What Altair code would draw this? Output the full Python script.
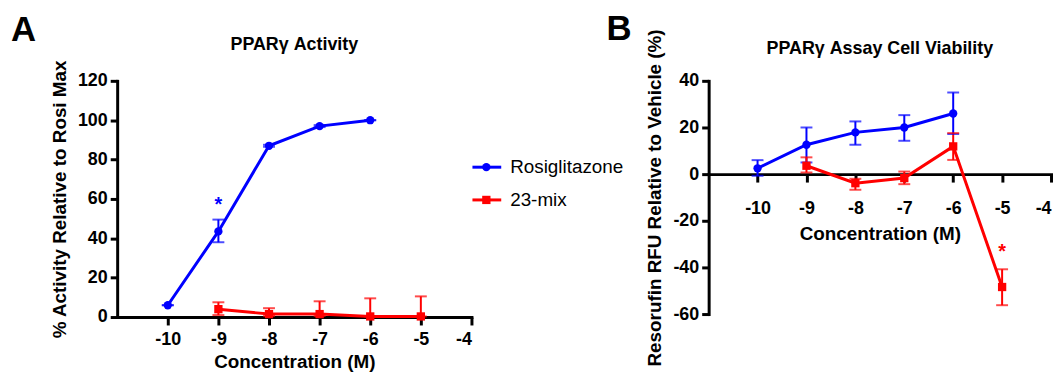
import altair as alt
import pandas as pd

FONT = "Liberation Sans"
series = ["Rosiglitazone", "23-mix"]
colors = ["#0000FF", "#FF0000"]
shapes = ["circle", "square"]
x_ticks = [-10, -9, -8, -7, -6, -5, -4]
x_domain = [-11, -4]
panel_letters = ["A", "B"]
panel_titles = ["PPARγ Activity", "PPARγ Assay Cell Viability"]
y_titles = ["% Activity Relative to Rosi Max", "Resorufin RFU Relative to Vehicle (%)"]
x_title = "Concentration (M)"

# Panel A: PPARγ activity
a_rosi_x = [-10, -9, -8, -7, -6]
a_rosi_y = [6, 43.5, 87, 97, 100]
a_rosi_lo = [6, 38, 86.5, 96.5, 100]
a_rosi_hi = [6, 49.5, 87.5, 97.5, 100]
a_mix_x = [-9, -8, -7, -6, -5]
a_mix_y = [4, 1.5, 1.5, 0.3, 0.3]
a_mix_lo = [1, 0.5, 0.5, 0.3, 0.3]
a_mix_hi = [7.5, 4.5, 8, 9.5, 10.5]
a_star = {"conc": [-9], "val": [57], "series": ["Rosiglitazone"]}
a_y_domain = [0, 120]
a_y_ticks = [0, 20, 40, 60, 80, 100, 120]

# Panel B: cell viability
b_rosi_x = [-10, -9, -8, -7, -6]
b_rosi_y = [2.5, 12.6, 17.9, 20, 26]
b_rosi_lo = [-0.7, 5, 12.6, 14.3, 17.2]
b_rosi_hi = [6, 20, 22.6, 25.3, 35]
b_mix_x = [-9, -8, -7, -6, -5]
b_mix_y = [3.6, -3.9, -1.7, 11.9, -48.4]
b_mix_lo = [0.7, -6.7, -4.3, 6.1, -56.2]
b_mix_hi = [7.2, -2, 1.1, 17.6, -40.8]
b_star = {"conc": [-5], "val": [-33.5], "series": ["23-mix"]}
b_y_domain = [-60, 40]
b_y_ticks = [-60, -40, -20, 0, 20, 40]


def frame(rx, ry, rlo, rhi, mx, my, mlo, mhi):
    d1 = pd.DataFrame({"conc": rx, "val": ry, "lo": rlo, "hi": rhi, "series": series[0]})
    d2 = pd.DataFrame({"conc": mx, "val": my, "lo": mlo, "hi": mhi, "series": series[1]})
    return pd.concat([d1, d2], ignore_index=True)


color = alt.Color("series:N", scale=alt.Scale(domain=series, range=colors), legend=None)
shape = alt.Shape("series:N", scale=alt.Scale(domain=series, range=shapes), legend=None)


def panel(df, star, letter, title, ytitle, ydom, yticks, W, H, letter_xy, title_y,
          lab_pad, ttl_pad):
    xoff = -H * (0 - ydom[0]) / (ydom[1] - ydom[0])
    xaxis = alt.Axis(values=x_ticks, labelExpr="datum.value + ''", title=x_title,
                     offset=xoff, tickSize=8, labelPadding=lab_pad, titlePadding=ttl_pad)
    yaxis = alt.Axis(values=yticks, labelExpr="datum.value + ''", title=ytitle,
                     tickSize=7, labelPadding=3, titlePadding=8)
    xs = alt.Scale(domain=x_domain, nice=False, zero=False)
    ys = alt.Scale(domain=ydom, nice=False, zero=False)

    def X():
        return alt.X("conc:Q", scale=xs, axis=xaxis)

    def Y(f):
        return alt.Y(f + ":Q", scale=ys, axis=yaxis)

    base = alt.Chart(df)
    line = base.mark_line(strokeWidth=3).encode(x=X(), y=Y("val"), color=color)
    err = base.mark_rule(strokeWidth=2).encode(x=X(), y=Y("lo"), y2="hi:Q", color=color)
    cap_lo = base.mark_tick(orient="horizontal", size=12, thickness=2).encode(x=X(), y=Y("lo"), color=color)
    cap_hi = base.mark_tick(orient="horizontal", size=12, thickness=2).encode(x=X(), y=Y("hi"), color=color)
    pts = base.mark_point(filled=True, size=70, opacity=1).encode(x=X(), y=Y("val"), color=color, shape=shape)
    stars = alt.Chart(pd.DataFrame(star)).mark_text(
        text="*", fontSize=20, fontWeight="bold", font=FONT, baseline="middle"
    ).encode(x=X(), y=Y("val"), color=color)
    let = alt.Chart(pd.DataFrame({"t": [letter]})).mark_text(
        fontSize=35, fontWeight="bold", font=FONT, align="left", baseline="alphabetic", color="black"
    ).encode(text="t:N", x=alt.value(letter_xy[0]), y=alt.value(letter_xy[1]))
    ttl = alt.Chart(pd.DataFrame({"t": [title]})).mark_text(
        fontSize=18, fontWeight="bold", font=FONT, align="center", baseline="alphabetic", color="black"
    ).encode(text="t:N", x=alt.value(W / 2), y=alt.value(title_y))
    return alt.layer(line, err, cap_lo, cap_hi, pts, stars, let, ttl).properties(width=W, height=H)


dfA = frame(a_rosi_x, a_rosi_y, a_rosi_lo, a_rosi_hi, a_mix_x, a_mix_y, a_mix_lo, a_mix_hi)
dfB = frame(b_rosi_x, b_rosi_y, b_rosi_lo, b_rosi_hi, b_mix_x, b_mix_y, b_mix_lo, b_mix_hi)

A = panel(dfA, a_star, panel_letters[0], panel_titles[0], y_titles[0], a_y_domain, a_y_ticks,
          357, 238, (-107, -40), -31, 6, 4)
B = panel(dfB, b_star, panel_letters[1], panel_titles[1], y_titles[1], b_y_domain, b_y_ticks,
          345, 235, (-103, -41), -27, 18, 7)

leg_df = pd.DataFrame({"series": series})
ly = alt.Y("series:N", sort=series, scale=alt.Scale(type="point", range=[87, 120], padding=0), axis=None)
leg_base = alt.Chart(leg_df)
leg_line = leg_base.mark_rule(strokeWidth=3).encode(x=alt.value(0), x2=alt.value(29), y=ly, color=color)
leg_pts = leg_base.mark_point(filled=True, size=70, opacity=1).encode(x=alt.value(14), y=ly, color=color, shape=shape)
leg_txt = leg_base.mark_text(align="left", baseline="middle", fontSize=19, font=FONT, color="black").encode(
    x=alt.value(38), y=ly, text="series:N")
L = alt.layer(leg_line, leg_pts, leg_txt).properties(width=237, height=238)

chart = alt.hconcat(A, L, B, spacing=1, bounds="flush").properties(
    autosize=alt.AutoSizeParams(type="none"),
    padding={"left": 110, "top": 72, "right": 944, "bottom": 294},
).configure(font=FONT).configure_view(stroke=None).configure_axis(
    grid=False,
    domainColor="black", domainWidth=3, domainCap="square",
    tickColor="black", tickWidth=3,
    labelColor="black", labelFont=FONT, labelFontSize=18, labelFontWeight="bold",
    titleColor="black", titleFont=FONT, titleFontSize=19, titleFontWeight="bold",
)

chart.save("out.html", embed_options={"renderer": "svg", "actions": False})
